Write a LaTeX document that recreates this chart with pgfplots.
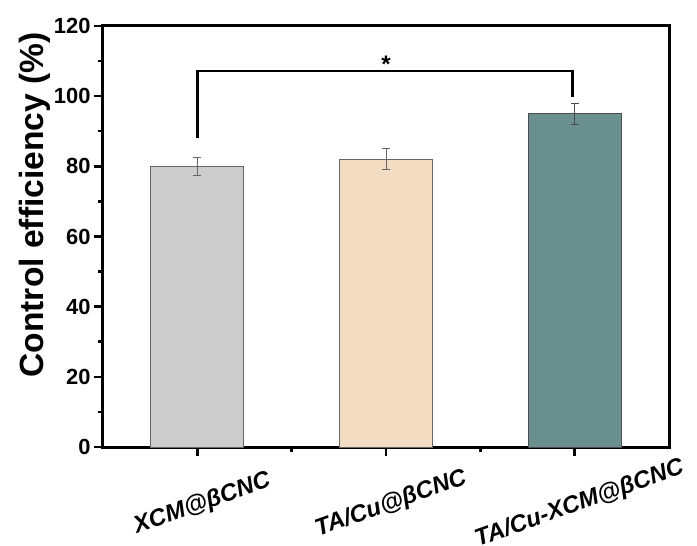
\documentclass[border=0pt]{standalone}
\usepackage{pgfplots}
\pgfplotsset{compat=1.18}
\usepackage{fontspec}
\setmainfont{Liberation Sans}
\definecolor{barA}{RGB}{204,204,204}
\definecolor{barB}{RGB}{242,221,195}
\definecolor{barC}{RGB}{106,143,143}
\begin{document}
\begin{tikzpicture}
\begin{axis}[
  scale only axis, width=566bp, height=421bp,
  xmin=-0.5, xmax=2.5, ymin=0, ymax=120,
  xtick={0,1,2}, xticklabels={XCM@βCNC, TA/Cu@βCNC, TA/Cu-XCM@βCNC},
  minor xtick={0.5,1.5},
  ytick={0,20,...,120}, minor ytick={10,30,...,110},
  tick align=outside, tick pos=left,
  major tick length=9bp, minor tick length=5bp,
  axis line style={line width=3bp},
  major tick style={line width=2.5bp, black},
  minor tick style={line width=2.5bp, black},
  ylabel={Control efficiency (\%)},
  ylabel style={font=\bfseries\fontsize{33.7}{40}\selectfont, at={(axis description cs:-0.120,0.575)}, anchor=center},
  yticklabel style={font=\bfseries\fontsize{22}{26}\selectfont},
  xticklabel style={font=\bfseries\itshape\fontsize{24}{29}\selectfont, rotate=19.5, anchor=center, xshift=-11.3bp, yshift=-46.9bp},
  /pgf/number format/assume math mode=true,
  ybar, bar width=93bp, bar shift=0pt,
]
\addplot[fill=barA, draw=black!60, line width=0.8bp,
  error bars/.cd, y dir=both, y explicit,
  error bar style={line width=0.8bp, black!60},
  error mark options={rotate=90, mark size=4bp, line width=0.8bp, black!60}]
  coordinates {(0,80) +- (0,2.5)};
\addplot[fill=barB, draw=black!60, line width=0.8bp,
  error bars/.cd, y dir=both, y explicit,
  error bar style={line width=0.8bp, black!60},
  error mark options={rotate=90, mark size=4bp, line width=0.8bp, black!60}]
  coordinates {(1,82) +- (0,3)};
\addplot[fill=barC, draw=black!70, line width=0.8bp,
  error bars/.cd, y dir=both, y explicit,
  error bar style={line width=0.8bp, black!70},
  error mark options={rotate=90, mark size=4bp, line width=0.8bp, black!70}]
  coordinates {(2,95) +- (0,3)};
\draw[line width=2.7bp] (axis cs:0,88.2) -- (axis cs:0,107.2) -- (axis cs:1.99,107.2) -- (axis cs:1.99,99.9);
\node[anchor=base, font=\bfseries\fontsize{24}{28}\selectfont, inner sep=0pt] at (axis cs:1,106.8) {*};
\coordinate (ll) at (rel axis cs:0,0);
\end{axis}
\pgfresetboundingbox
\path (ll) ++(-103bp,-99bp) rectangle ++(697bp,546bp);
\end{tikzpicture}
\end{document}
